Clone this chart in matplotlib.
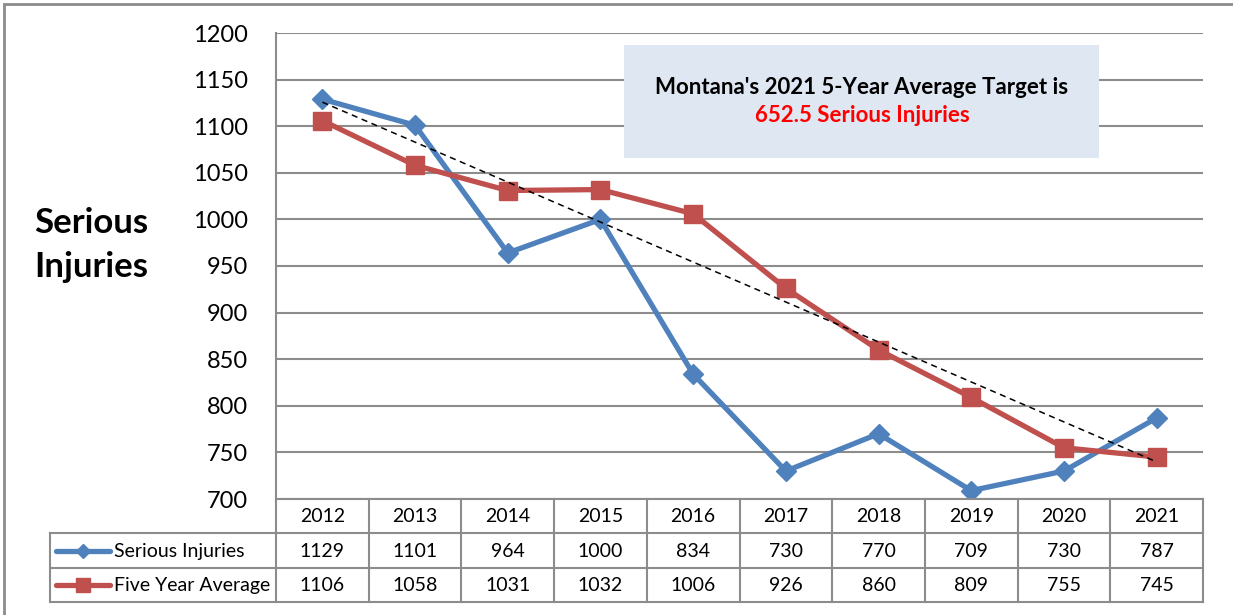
import matplotlib.pyplot as plt
import matplotlib as mpl
import numpy as np
from matplotlib.patches import Rectangle
from matplotlib.lines import Line2D

plt.rcParams['font.family'] = ['Lato', 'DejaVu Sans']

years = ['2012', '2013', '2014', '2015', '2016', '2017', '2018', '2019', '2020', '2021']
serious = [1129, 1101, 964, 1000, 834, 730, 770, 709, 730, 787]
five_avg = [1106, 1058, 1031, 1032, 1006, 926, 860, 809, 755, 745]
series_names = ['Serious Injuries', 'Five Year Average']
yticks = [700, 750, 800, 850, 900, 950, 1000, 1050, 1100, 1150, 1200]

BLUE = '#4f81bd'
RED = '#c0504d'
GRID = '#8c8c8c'

W, H = 1233, 615
fig = plt.figure(figsize=(W / 100, H / 100), dpi=100)

def px_box(x0, y0, x1, y1):
    """pixel box (top-left origin) -> figure fraction [l, b, w, h]"""
    return [x0 / W, 1 - y1 / H, (x1 - x0) / W, (y1 - y0) / H]

# outer chart border
fig.patches.append(Rectangle((4 / W, -0.1), (W - 3) / W, 1 - 4 / H + 0.1,
                             transform=fig.transFigure, fill=False,
                             ec='#8c8c8c', lw=2))

# main plot
ax = fig.add_axes(px_box(276, 33, 1203, 499))
x = np.arange(len(years))
ax.set_xlim(-0.5, len(years) - 0.5)
ax.set_ylim(700, 1200)
ax.set_yticks(yticks)
ax.set_xticks([])
ax.tick_params(axis='y', length=0, labelsize=17, pad=20)
ax.grid(axis='y', color=GRID, lw=1.5)
ax.set_axisbelow(True)
for s in ['top', 'right', 'bottom']:
    ax.spines[s].set_visible(False)
ax.spines['left'].set_color(GRID)
ax.spines['left'].set_linewidth(1.5)

ax.plot(x, serious, color=BLUE, lw=3.8, marker='D', ms=10.5, mec=BLUE, zorder=3)
ax.plot(x, five_avg, color=RED, lw=3.8, marker='s', ms=12.5, mec=RED, zorder=3)

# linear trend of the five-year average
coef = np.polyfit(x, five_avg, 1)
ax.plot(x, np.polyval(coef, x), color='black', lw=1.1, ls=(0, (4, 3)), zorder=4)

fig.text(91 / W, 1 - 245 / H, 'Serious\nInjuries', ha='center', va='center',
         fontsize=25, fontweight='bold', linespacing=1.45)

# target box
fig.patches.append(Rectangle((624 / W, 1 - 158 / H), (1099 - 624) / W, (158 - 45) / H,
                             transform=fig.transFigure, fc='#dfe7f2', ec='none', zorder=5))
fig.text(862 / W, 1 - 88 / H, "Montana's 2021 5-Year Average Target is", ha='center',
         va='center', fontsize=16, fontweight='bold', color='black', zorder=6)
fig.text(862 / W, 1 - 116 / H, '652.5 Serious Injuries', ha='center',
         va='center', fontsize=16, fontweight='bold', color='#ff0000', zorder=6)

# data table
col_w = (1203 - 276) / len(years)
leg_w = (276 - 50) / col_w
tax = fig.add_axes(px_box(50, 499, 1203, 602))
tax.set_xlim(-0.5 - leg_w, len(years) - 0.5)
tax.set_ylim(3, 0)
tax.axis('off')
left = -0.5 - leg_w
right = len(years) - 0.5
lkw = dict(color=GRID, lw=1.5, solid_capstyle='projecting', clip_on=False)
for r in [0, 1, 2, 3]:
    x0 = -0.5 if r == 0 else left
    tax.plot([x0, right], [r, r], **lkw)
for c in range(len(years) + 1):
    tax.plot([c - 0.5, c - 0.5], [0, 3], **lkw)
tax.plot([left, left], [1, 3], **lkw)

FS = 14
for i, yr in enumerate(years):
    tax.text(i, 0.52, yr, ha='center', va='center', fontsize=FS)
    tax.text(i, 1.52, str(serious[i]), ha='center', va='center', fontsize=FS)
    tax.text(i, 2.52, str(five_avg[i]), ha='center', va='center', fontsize=FS)

styles = [(BLUE, 'D', 7), (RED, 's', 10)]
for row, (name, (col, mk, ms)) in enumerate(zip(series_names, styles), start=1):
    lx0 = left + 6 / col_w
    lx1 = left + 60 / col_w
    tax.add_line(Line2D([lx0, lx1], [row + 0.5, row + 0.5], color=col, lw=3.8,
                        solid_capstyle='round', clip_on=False))
    tax.plot([(lx0 + lx1) / 2], [row + 0.5], marker=mk, ms=ms, color=col, clip_on=False)
    tax.text(left + 64 / col_w, row + 0.52, name, ha='left', va='center', fontsize=FS)

fig.savefig('out.png', dpi=100)
